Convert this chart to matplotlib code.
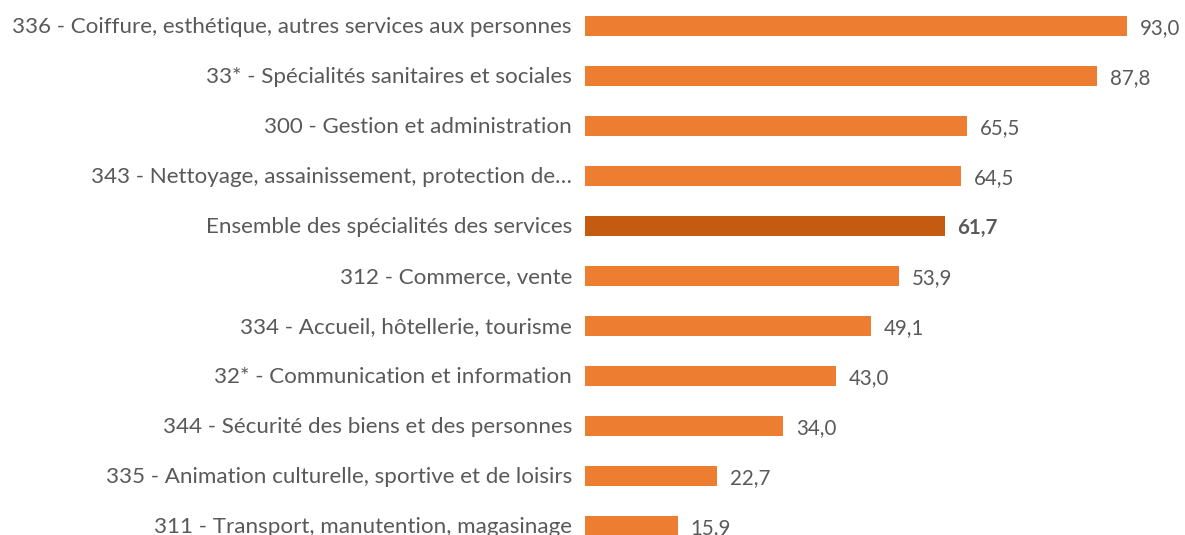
import matplotlib
matplotlib.use("Agg")
import matplotlib.pyplot as plt

categories = [
    "336 - Coiffure, esthétique, autres services aux personnes",
    "33* - Spécialités sanitaires et sociales",
    "300 - Gestion et administration",
    "343 - Nettoyage, assainissement, protection de…",
    "Ensemble des spécialités des services",
    "312 - Commerce, vente",
    "334 - Accueil, hôtellerie, tourisme",
    "32* - Communication et information",
    "344 - Sécurité des biens et des personnes",
    "335 - Animation culturelle, sportive et de loisirs",
    "311 - Transport, manutention, magasinage",
]
values = [93.0, 87.8, 65.5, 64.5, 61.7, 53.9, 49.1, 43.0, 34.0, 22.7, 15.9]
highlight = "Ensemble des spécialités des services"

W, H = 1185, 535
fig = plt.figure(figsize=(W / 100, H / 100), dpi=100)
ax = fig.add_axes([585 / W, 0, 600 / W, 1])
font = "Lato"
gray = "#595959"
orange = "#ED7D31"
dark = "#C55A11"

ys = list(range(len(categories)))
colors = [dark if c == highlight else orange for c in categories]
ax.barh(ys, values, height=0.4, color=colors)
ax.set_xlim(0, 600 / 5.828)
ax.set_ylim((535 - 26) / 50.0, -26 / 50.0)
ax.axis("off")

for y, c, v in zip(ys, categories, values):
    bold = c == highlight
    ax.text(-13 / 5.828, y + 0.14, c, ha="right", va="baseline", fontsize=16.1,
            color=gray, family=font)
    ax.text(v + 13 / 5.828, y + 0.16, f"{v:.1f}".replace(".", ","), ha="left",
            va="baseline", fontsize=14.8, color=gray, family=font,
            fontweight="bold" if bold else "normal")

fig.savefig("out.png", dpi=100)
